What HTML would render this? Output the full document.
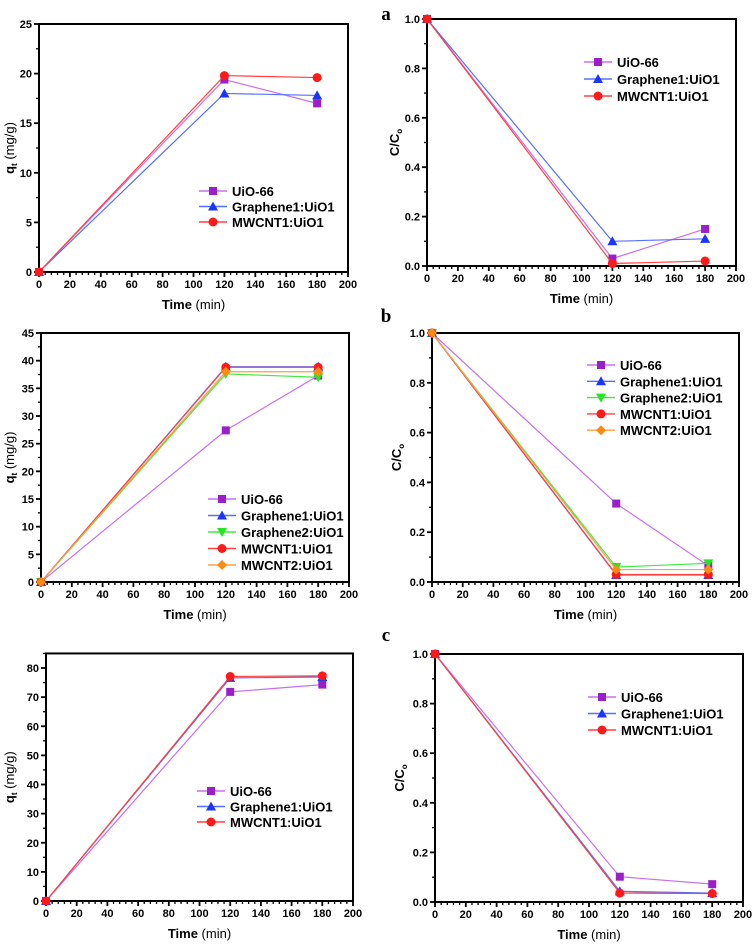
<!DOCTYPE html>
<html><head><meta charset="utf-8">
<style>
html,body{margin:0;padding:0;background:#fff;}
svg{display:block;font-family:"Liberation Sans",Arial,sans-serif;}
.tk{font-size:11px;font-weight:bold;fill:#000;}
.lg{font-size:13px;font-weight:bold;fill:#000;}
.ttl{font-size:13px;fill:#000;}
.pl{font-family:"Liberation Serif",serif;font-size:19px;font-weight:bold;}
</style></head>
<body>
<svg id="fig" width="752" height="944" viewBox="0 0 752 944">
<text class="pl" x="386" y="20" text-anchor="middle">a</text>
<text class="pl" x="386" y="322" text-anchor="middle">b</text>
<text class="pl" x="386" y="641" text-anchor="middle">c</text>
</svg>
<script>
// ---- data ----
const timeMin = [0, 120, 180];
const xTicks = [0, 20, 40, 60, 80, 100, 120, 140, 160, 180, 200];
const ccTicks = [0, 0.2, 0.4, 0.6, 0.8, 1.0];
const ccTickLabels = ["0.0", "0.2", "0.4", "0.6", "0.8", "1.0"];

const seriesNames3 = ["UiO-66", "Graphene1:UiO1", "MWCNT1:UiO1"];
const seriesNames5 = ["UiO-66", "Graphene1:UiO1", "Graphene2:UiO1", "MWCNT1:UiO1", "MWCNT2:UiO1"];

// panel a
const aQ_uio = [0, 19.4, 17.0];
const aQ_g1 = [0, 18.0, 17.8];
const aQ_mw1 = [0, 19.8, 19.6];
const aC_uio = [1, 0.03, 0.15];
const aC_g1 = [1, 0.10, 0.11];
const aC_mw1 = [1, 0.01, 0.02];
const aQTicks = [0, 5, 10, 15, 20, 25];
// panel b
const bQ_uio = [0, 27.4, 37.3];
const bQ_g1 = [0, 38.9, 38.9];
const bQ_g2 = [0, 37.6, 37.0];
const bQ_mw1 = [0, 38.8, 38.8];
const bQ_mw2 = [0, 38.0, 38.0];
const bC_uio = [1, 0.315, 0.065];
const bC_g1 = [1, 0.028, 0.028];
const bC_g2 = [1, 0.06, 0.075];
const bC_mw1 = [1, 0.03, 0.03];
const bC_mw2 = [1, 0.05, 0.05];
const bQTicks = [0, 5, 10, 15, 20, 25, 30, 35, 40, 45];
// panel c
const cQ_uio = [0, 71.8, 74.3];
const cQ_g1 = [0, 76.6, 76.9];
const cQ_mw1 = [0, 77.1, 77.3];
const cC_uio = [1, 0.102, 0.072];
const cC_g1 = [1, 0.043, 0.036];
const cC_mw1 = [1, 0.036, 0.034];
const cQTicks = [0, 10, 20, 30, 40, 50, 60, 70, 80];

// ---- styles ----
const STY = {
  "UiO-66": {c:"#9a1fc8", l:"#c870ee", m:"sq"},
  "Graphene1:UiO1": {c:"#1a35ff", l:"#5570ff", m:"tri"},
  "Graphene2:UiO1": {c:"#22e822", l:"#44e844", m:"dtri"},
  "MWCNT1:UiO1": {c:"#ff1a1a", l:"#ff4040", m:"circ"},
  "MWCNT2:UiO1": {c:"#ff8a10", l:"#ffa040", m:"dia"}
};
const NS = "http://www.w3.org/2000/svg";
const svg = document.getElementById("fig");
function el(tag, attrs, parent){
  const e = document.createElementNS(NS, tag);
  for (const k in attrs) e.setAttribute(k, attrs[k]);
  (parent||svg).appendChild(e);
  return e;
}
function marker(g, kind, x, y, color){
  let e;
  if (kind==="sq") e = el("rect",{x:x-4,y:y-4,width:8,height:8,fill:color},g);
  else if (kind==="circ") e = el("circle",{cx:x,cy:y,r:4.5,fill:color},g);
  else if (kind==="tri") e = el("polygon",{points:`${x},${y-5} ${x-5},${y+4} ${x+5},${y+4}`,fill:color},g);
  else if (kind==="dtri") e = el("polygon",{points:`${x},${y+5} ${x-5},${y-4} ${x+5},${y-4}`,fill:color},g);
  else e = el("polygon",{points:`${x},${y-5} ${x+5},${y} ${x},${y+5} ${x-5},${y}`,fill:color},g);
  return e;
}

function chart(cfg){
  const g = el("g",{});
  
  
  const {x0,x1,y0,y1,ymax,ytop} = cfg;
  const sx = v => x0 + (v/200)*(x1-x0);
  const sy = v => y0 - (v/ymax)*(y0-y1);
  const topY = sy(ytop);
  // frame
  const fr = el("rect",{x:x0,y:topY,width:x1-x0,height:y0-topY,fill:"none",stroke:"#000","stroke-width":2},g);
  
  
  // x ticks
  for (let v=0; v<=200; v+=4){
    const major = v%20===0;
    el("line",{x1:sx(v),x2:sx(v),y1:y0,y2:y0+(major?5:3),stroke:"#000","stroke-width":major?1.8:1.3},g);
  }
  xTicks.forEach(v=>{
    const t = el("text",{x:sx(v),y:y0+16,"text-anchor":"middle",class:"tk"},g);
    t.textContent = v;
    
    
  });
  // y ticks
  const yt = cfg.yTicks;
  for (let i=0;i<yt.length;i++){
    const yy = sy(yt[i]);
    el("line",{x1:x0-5,x2:x0,y1:yy,y2:yy,stroke:"#000","stroke-width":1.8},g);
    if (i<yt.length-1 || ytop>yt[i]){
      const step = i<yt.length-1 ? yt[i+1]-yt[i] : yt[1]-yt[0];
      const mv = yt[i]+step/2;
      if (mv<=ytop) el("line",{x1:x0-3,x2:x0,y1:sy(mv),y2:sy(mv),stroke:"#000","stroke-width":1.3},g);
    }
    const t = el("text",{x:x0-7,y:yy+4,"text-anchor":"end",class:"tk"},g);
    t.textContent = cfg.yLabels ? cfg.yLabels[i] : yt[i];
    
    
  }
  // axis titles
  const xt = el("text",{x:(x0+x1)/2,y:y0+37,"text-anchor":"middle",class:"ttl"},g);
  xt.innerHTML = '<tspan font-weight="bold">Time</tspan> (min)';
  
  
  const ycx = cfg.ytx, ycy = (y0+topY)/2;
  const ytt = el("text",{x:ycx,y:ycy,"text-anchor":"middle",class:"ttl",transform:`rotate(-90 ${ycx} ${ycy})`},g);
  if (cfg.cc) ytt.innerHTML = '<tspan font-weight="bold">C/C</tspan><tspan font-size="8" dy="3" font-weight="bold">o</tspan>';
  else ytt.innerHTML = '<tspan font-weight="bold">q</tspan><tspan font-size="8" dy="3" font-weight="bold">t</tspan><tspan dy="-3"> (mg/g)</tspan>';
  
  
  // series
  cfg.series.forEach((s,si)=>{
    const st = STY[s.name];
    const sg = el("g",{},g);
    
    
    const pts = timeMin.map((t,i)=>`${sx(t)},${sy(s.v[i])}`).join(" ");
    el("polyline",{points:pts,fill:"none",stroke:st.l,"stroke-width":1.2},sg);
    timeMin.forEach((t,i)=>{
      const m = marker(sg, st.m, sx(t), sy(s.v[i]), st.c);
      
      
    });
  });
  // legend
  const lg = el("g",{},g);
  
  
  cfg.series.forEach((s,i)=>{
    const st = STY[s.name];
    const y = cfg.lgY + i*cfg.lgDy;
    const eg = el("g",{},lg);
    
    
    el("line",{x1:cfg.lgX,x2:cfg.lgX+28,y1:y,y2:y,stroke:st.l,"stroke-width":1.4},eg);
    marker(eg, st.m, cfg.lgX+14, y, st.c);
    const t = el("text",{x:cfg.lgX+33,y:y+5,class:"lg"},eg);
    t.textContent = s.name;
  });
}

chart({name:"chart-a-qt",x0:39,x1:348,y0:272,y1:24,ymax:25,ytop:25,yTicks:aQTicks,ytx:14,
  series:[{name:seriesNames3[0],v:aQ_uio},{name:seriesNames3[1],v:aQ_g1},{name:seriesNames3[2],v:aQ_mw1}],
  lgX:199,lgY:191,lgDy:15.5});
chart({name:"chart-a-cc",x0:427,x1:736,y0:266,y1:19,ymax:1,ytop:1,yTicks:ccTicks,yLabels:ccTickLabels,ytx:399,cc:true,
  series:[{name:seriesNames3[0],v:aC_uio},{name:seriesNames3[1],v:aC_g1},{name:seriesNames3[2],v:aC_mw1}],
  lgX:584,lgY:62,lgDy:17});
chart({name:"chart-b-qt",x0:41,x1:349,y0:582,y1:333,ymax:45,ytop:45,yTicks:bQTicks,ytx:14,
  series:[{name:seriesNames5[0],v:bQ_uio},{name:seriesNames5[1],v:bQ_g1},{name:seriesNames5[2],v:bQ_g2},{name:seriesNames5[3],v:bQ_mw1},{name:seriesNames5[4],v:bQ_mw2}],
  lgX:208,lgY:499,lgDy:16.5});
chart({name:"chart-b-cc",x0:432,x1:739,y0:582,y1:333,ymax:1,ytop:1,yTicks:ccTicks,yLabels:ccTickLabels,ytx:401,cc:true,
  series:[{name:seriesNames5[0],v:bC_uio},{name:seriesNames5[1],v:bC_g1},{name:seriesNames5[2],v:bC_g2},{name:seriesNames5[3],v:bC_mw1},{name:seriesNames5[4],v:bC_mw2}],
  lgX:587,lgY:365,lgDy:16.3});
chart({name:"chart-c-qt",x0:46,x1:353,y0:901,y1:668,ymax:80,ytop:85,yTicks:cQTicks,ytx:14,
  series:[{name:seriesNames3[0],v:cQ_uio},{name:seriesNames3[1],v:cQ_g1},{name:seriesNames3[2],v:cQ_mw1}],
  lgX:197,lgY:791,lgDy:15.5});
chart({name:"chart-c-cc",x0:435,x1:743,y0:902,y1:654,ymax:1,ytop:1,yTicks:ccTicks,yLabels:ccTickLabels,ytx:404,cc:true,
  series:[{name:seriesNames3[0],v:cC_uio},{name:seriesNames3[1],v:cC_g1},{name:seriesNames3[2],v:cC_mw1}],
  lgX:588,lgY:697,lgDy:16.5});
</script>
</body></html>
